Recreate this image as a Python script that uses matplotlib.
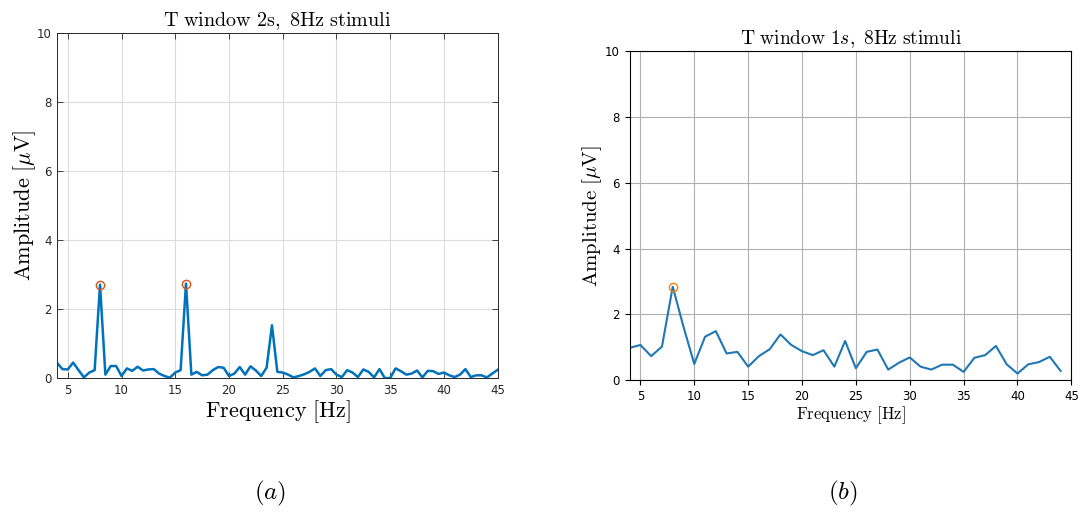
import numpy as np
import matplotlib
matplotlib.use("Agg")
import matplotlib.pyplot as plt

plt.rcParams["mathtext.fontset"] = "cm"

# Spectrum with a 2 s window (0.5 Hz resolution)
freq_2s = np.arange(4.0, 45.01, 0.5)
amp_2s = [
    0.44, 0.26, 0.25, 0.45, 0.23, 0.02, 0.16, 0.23, 2.71, 0.10,
    0.35, 0.35, 0.06, 0.28, 0.21, 0.33, 0.22, 0.25, 0.26, 0.13,
    0.06, 0.01, 0.16, 0.23, 2.74, 0.10, 0.18, 0.08, 0.10, 0.23,
    0.32, 0.30, 0.06, 0.13, 0.32, 0.10, 0.34, 0.22, 0.06, 0.30,
    1.53, 0.18, 0.16, 0.10, 0.02, 0.06, 0.11, 0.18, 0.28, 0.06,
    0.23, 0.26, 0.10, 0.03, 0.23, 0.16, 0.03, 0.25, 0.18, 0.02,
    0.26, 0.00, 0.00, 0.28, 0.20, 0.10, 0.13, 0.22, 0.02, 0.21,
    0.20, 0.12, 0.16, 0.08, 0.03, 0.10, 0.26, 0.03, 0.08, 0.08,
    0.02, 0.13, 0.24,
]
peaks_2s_f = [8.0, 16.0]
peaks_2s_a = [2.71, 2.74]

# Spectrum with a 1 s window (1 Hz resolution)
freq_1s = np.arange(4, 45)
amp_1s = [
    0.98, 1.07, 0.73, 1.02, 2.84, 1.62, 0.49, 1.32, 1.49, 0.81,
    0.86, 0.41, 0.73, 0.94, 1.39, 1.07, 0.88, 0.76, 0.91, 0.41,
    1.19, 0.36, 0.86, 0.93, 0.32, 0.53, 0.69, 0.41, 0.32, 0.47,
    0.47, 0.25, 0.68, 0.76, 1.04, 0.48, 0.20, 0.48, 0.55, 0.71,
    0.28,
]
peaks_1s_f = [8]
peaks_1s_a = [2.84]

x_ticks = [5, 10, 15, 20, 25, 30, 35, 40, 45]
y_ticks = [0, 2, 4, 6, 8, 10]

fig = plt.figure(figsize=(10.8, 5.13), dpi=100)

# ---- (a) MATLAB-style panel ----
ax1 = fig.add_axes([0.0528, 0.263, 0.408, 0.6725])
ax1.plot(freq_2s, amp_2s, color="#0072BD", lw=1.8)
ax1.plot(peaks_2s_f, peaks_2s_a, "o", mfc="none", mec="#D95319", ms=6, mew=1.0)
ax1.set_xlim(4, 45)
ax1.set_ylim(0, 10)
ax1.set_xticks(x_ticks)
ax1.set_yticks(y_ticks)
ax1.grid(True, color="#dcdcdc", lw=0.8)
ax1.set_axisbelow(True)
ax1.tick_params(direction="in", top=True, right=True, labelsize=8.5,
                colors="#262626", length=4, width=0.6, pad=4)
for s in ax1.spines.values():
    s.set_color("#262626")
    s.set_linewidth(0.7)
ax1.set_title(r"$\mathrm{T\ window\ 2s,\ 8Hz\ stimuli}$", fontsize=14.5, pad=5)
ax1.set_xlabel(r"$\mathrm{Frequency\ [Hz]}$", fontsize=16, labelpad=1)
ax1.set_ylabel(r"$\mathrm{Amplitude}\ [\mu\mathrm{V}]$", fontsize=16, labelpad=-1)

# ---- (b) matplotlib-style panel ----
ax2 = fig.add_axes([0.583, 0.259, 0.409, 0.641])
ax2.plot(freq_1s, amp_1s, color="#1f77b4", lw=1.5)
ax2.plot(peaks_1s_f, peaks_1s_a, "o", mfc="none", mec="#ff7f0e", ms=6, mew=1.0)
ax2.set_xlim(4, 45)
ax2.set_ylim(0, 10)
ax2.set_xticks(x_ticks)
ax2.set_yticks(y_ticks)
ax2.grid(True, color="#b0b0b0", lw=0.8)
ax2.tick_params(labelsize=8.5)
ax2.set_title(r"$\mathrm{T\ window\ 1}s\mathrm{,\ 8Hz\ stimuli}$", fontsize=14, pad=5)
ax2.set_xlabel(r"$\mathrm{Frequency\ [Hz]}$", fontsize=12, labelpad=1)
ax2.set_ylabel(r"$\mathrm{Amplitude}\ [\mu\mathrm{V}]$", fontsize=15, labelpad=0.5)

# Subfigure captions
fig.text(0.25, 0.038, r"$(a)$", fontsize=18, ha="center", va="center")
fig.text(0.78, 0.038, r"$(b)$", fontsize=18, ha="center", va="center")

fig.savefig("out.png", dpi=100)
